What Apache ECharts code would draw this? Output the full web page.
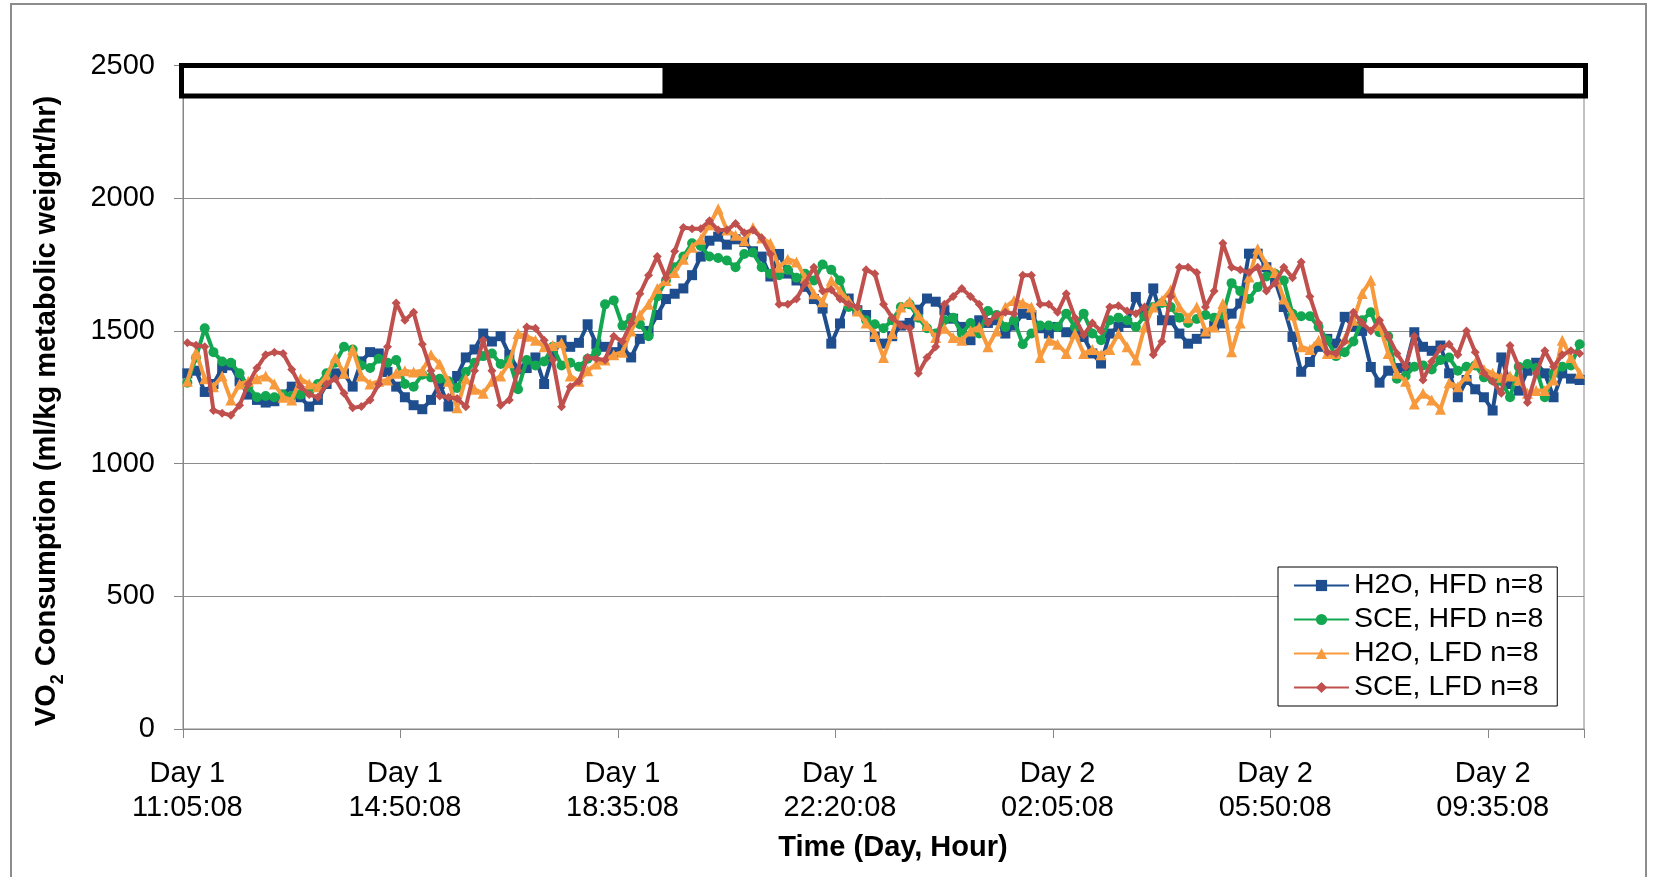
<!DOCTYPE html>
<html>
<head>
<meta charset="utf-8">
<script src="https://cdn.jsdelivr.net/npm/echarts@6/dist/echarts.min.js"></script>
<style>
html,body{margin:0;padding:0;background:#fff;}
#chart{width:1657px;height:877px;}
</style>
</head>
<body>
<div id="chart"></div>
<script>
// ---- data ----
const startMinutes = 11 * 60 + 5;   // Day 1 11:05:08
const stepMinutes = 9;
const nPoints = 161;

const xTickLabels = ['Day 1\n11:05:08','Day 1\n14:50:08','Day 1\n18:35:08','Day 1\n22:20:08','Day 2\n02:05:08','Day 2\n05:50:08','Day 2\n09:35:08'];
const yTicks = [0, 500, 1000, 1500, 2000, 2500];

// light (0) / dark (1) phases, in category positions
const lightPhases = [
  [0, 55.1, 0],
  [55.1, 135.7, 1],
  [135.7, 161, 0]
];
const phaseBar = [2385, 2500];

const h2oHFD = [
1340,1350,1270,1300,1360,1370,1310,1260,1240,1230,1235,1260,1290,1250,1215,1240,1300,1340,1340,1290,1385,1420,1415,
1345,1290,1250,1220,1205,1240,1300,1215,1330,1400,1430,1490,1460,1480,1410,1355,1360,1400,1300,1410,1465,1440,
1455,1525,1450,1440,1420,1440,1400,1470,1500,1560,1620,1640,1660,1710,1780,1840,1855,1825,1845,1835,1800,1780,1705,1790,
1716,1690,1666,1620,1584,1452,1528,1622,1578,1560,1477,1452,1480,1520,1530,1580,1622,1610,1578,1546,1515,1465,1540,
1530,1540,1490,1520,1565,1560,1510,1490,1515,1495,1490,1477,1415,1377,1490,1515,1530,1628,1565,1660,1540,1540,1490,
1452,1470,1490,1520,1528,1565,1603,1791,1791,1740,1690,1590,1477,1346,1383,1440,1470,1452,1553,1515,1500,1364,1305,
1350,1360,1365,1495,1440,1425,1445,1340,1250,1315,1280,1250,1200,1400,1300,1275,1350,1380,1340,1250,1340,1320,1315
];
const sceHFD = [
1305,1400,1510,1420,1385,1380,1340,1290,1250,1255,1250,1260,1255,1260,1270,1300,1340,1380,1440,1430,1370,1360,1395,
1380,1390,1300,1290,1335,1325,1320,1310,1285,1345,1380,1405,1415,1375,1390,1280,1390,1370,1385,1440,1370,1380,
1365,1395,1420,1600,1615,1520,1550,1525,1480,1630,1690,1740,1780,1830,1820,1780,1775,1765,1740,1790,1795,1740,1715,1710,
1730,1700,1715,1690,1750,1730,1690,1590,1575,1540,1525,1510,1540,1590,1600,1550,1510,1490,1540,1550,1490,1530,1490,
1575,1560,1515,1540,1450,1490,1520,1520,1515,1565,1515,1565,1490,1465,1540,1550,1540,1515,1555,1590,1605,1590,1550,
1530,1545,1560,1550,1560,1680,1650,1620,1665,1705,1715,1690,1565,1555,1555,1515,1465,1405,1420,1460,1540,1570,1495,
1480,1320,1330,1365,1370,1355,1390,1400,1350,1365,1370,1325,1315,1310,1250,1365,1375,1360,1250,1340,1365,1370,1450
];
const h2oLFD = [
1310,1420,1320,1290,1330,1240,1300,1310,1320,1330,1300,1250,1240,1320,1300,1290,1330,1400,1340,1430,1330,1300,1310,
1315,1340,1350,1345,1350,1410,1375,1310,1210,1320,1280,1265,1310,1330,1380,1490,1480,1465,1440,1445,1455,1330,
1310,1350,1375,1390,1410,1420,1500,1560,1600,1660,1690,1720,1770,1815,1845,1900,1960,1880,1860,1840,1890,1850,1830,1740,
1770,1760,1700,1640,1610,1690,1650,1615,1575,1530,1490,1400,1490,1590,1610,1560,1520,1475,1510,1475,1465,1500,1515,
1440,1500,1590,1615,1605,1590,1400,1465,1450,1415,1490,1415,1430,1410,1430,1490,1440,1390,1515,1590,1615,1655,1590,
1550,1590,1500,1515,1603,1421,1530,1703,1810,1750,1720,1620,1560,1440,1430,1465,1415,1415,1470,1540,1641,1691,1520,
1415,1340,1310,1225,1265,1240,1205,1305,1290,1330,1380,1355,1340,1325,1330,1315,1265,1275,1275,1315,1465,1400,1340
];
const sceLFD = [
1455,1446,1440,1200,1190,1182,1220,1300,1360,1410,1420,1415,1355,1290,1260,1250,1300,1320,1265,1210,1215,1240,1300,
1440,1605,1540,1570,1450,1350,1255,1250,1245,1214,1350,1465,1350,1220,1240,1350,1515,1510,1465,1390,1214,1290,
1310,1400,1395,1390,1480,1460,1530,1640,1710,1780,1700,1800,1890,1885,1885,1915,1880,1880,1905,1870,1880,1850,1790,1600,
1600,1620,1680,1740,1650,1655,1620,1600,1590,1730,1715,1600,1550,1520,1510,1340,1400,1440,1600,1630,1660,1630,1600,
1530,1560,1570,1565,1710,1710,1600,1600,1570,1640,1550,1485,1530,1500,1590,1595,1575,1565,1590,1410,1460,1630,1740,
1740,1720,1590,1650,1830,1740,1730,1720,1740,1650,1680,1740,1700,1760,1630,1530,1420,1415,1460,1570,1530,1500,1540,
1480,1415,1365,1480,1315,1385,1435,1450,1410,1500,1420,1340,1310,1265,1445,1365,1230,1340,1425,1365,1410,1425,1415
];

const seriesNames = ['H2O, HFD n=8','SCE, HFD n=8','H2O, LFD n=8','SCE, LFD n=8'];
const seriesColors = ['#1F4E8F','#14A751','#F79A3E','#C0504D'];
const seriesSymbols = ['rect','circle','triangle','diamond'];
const seriesData = [h2oHFD, sceHFD, h2oLFD, sceLFD];

// category names (time stamps)
const categories = [];
for (let i = 0; i < nPoints; i++) {
  const m = startMinutes + i * stepMinutes;
  const day = 1 + Math.floor(m / 1440);
  const mm = m % 1440;
  const hh = String(Math.floor(mm / 60)).padStart(2, '0');
  const mi = String(mm % 60).padStart(2, '0');
  categories.push('Day ' + day + ' ' + hh + ':' + mi + ':08');
}

const FONT = "'Liberation Sans', Arial, sans-serif";
const chart = echarts.init(document.getElementById('chart'), null, {renderer: 'canvas'});

const lineSeries = seriesNames.map((name, k) => ({
  name: name,
  type: 'line',
  xAxisIndex: 0,
  yAxisIndex: 0,
  data: seriesData[k],
  symbol: seriesSymbols[k],
  symbolSize: k === 3 ? 9 : (k === 2 ? 11 : 10),
  showSymbol: true,
  showAllSymbol: true,
  lineStyle: {color: seriesColors[k], width: 4},
  itemStyle: {color: seriesColors[k]},
  emphasis: {disabled: true},
  z: 3 + k
}));

const option = {
  animation: false,
  textStyle: {fontFamily: FONT},
  grid: {left: 183, right: 73, top: 65.5, bottom: 148, show: true, borderColor: '#868686', borderWidth: 1},
  xAxis: [{
    type: 'category',
    data: categories,
    boundaryGap: true,
    axisLine: {lineStyle: {color: '#868686', width: 1}},
    axisTick: {show: true, interval: 24, length: 9, lineStyle: {color: '#868686'}},
    axisLabel: {
      interval: 24, margin: 28, color: '#000', fontSize: 29, lineHeight: 34, fontFamily: FONT,
      formatter: (v, idx) => xTickLabels[Math.round(idx / 25)]
    },
    splitLine: {show: false}
  }, {
    type: 'value', min: 0, max: nPoints, show: false
  }],
  yAxis: [{
    type: 'value', min: yTicks[0], max: yTicks[yTicks.length - 1], interval: 500,
    axisLine: {show: true, lineStyle: {color: '#868686'}},
    axisTick: {show: true, length: 9, lineStyle: {color: '#868686'}},
    axisLabel: {margin: 28, color: '#000', fontSize: 29, fontFamily: FONT, formatter: v => String(v)},
    splitLine: {show: true, lineStyle: {color: '#8c8c8c', width: 1}}
  }],
  legend: {
    data: seriesNames,
    orient: 'vertical',
    left: 1278, top: 567,
    padding: [4, 14, 4, 15],
    itemWidth: 55, itemHeight: 14, itemGap: 5,
    borderColor: '#000', borderWidth: 1,
    backgroundColor: '#fff',
    textStyle: {fontSize: 28.5, color: '#000', fontFamily: FONT}
  },
  series: lineSeries.concat([{
    type: 'custom',
    name: 'phases',
    xAxisIndex: 1, yAxisIndex: 0,
    clip: false,
    silent: true,
    z: 10,
    data: lightPhases,
    renderItem: (params, api) => {
      const p0 = api.coord([api.value(0), phaseBar[1]]);
      const p1 = api.coord([api.value(1), phaseBar[0]]);
      return {type: 'rect', shape: {x: p0[0], y: p0[1], width: p1[0] - p0[0], height: p1[1] - p0[1]},
              style: {fill: api.value(2) ? '#000' : '#fff', stroke: null}};
    }
  }, {
    type: 'custom',
    name: 'phaseFrame',
    xAxisIndex: 1, yAxisIndex: 0,
    clip: false, silent: true, z: 11,
    data: [[0, nPoints]],
    renderItem: (params, api) => {
      const p0 = api.coord([api.value(0), phaseBar[1]]);
      const p1 = api.coord([api.value(1), phaseBar[0]]);
      return {type: 'rect', shape: {x: p0[0] - 1.5, y: p0[1], width: p1[0] - p0[0] + 3, height: p1[1] - p0[1]},
              style: {fill: null, stroke: '#000', lineWidth: 5}};
    }
  }]),
  graphic: [
    {type: 'rect', shape: {x: 11, y: 4, width: 1635, height: 900}, style: {fill: null, stroke: '#8c8c8c', lineWidth: 2}, silent: true, z: 0},
    {type: 'text', x: 893, y: 848, style: {text: 'Time (Day, Hour)', fontSize: 29, fontWeight: 'bold', fontFamily: FONT, fill: '#000', align: 'center', verticalAlign: 'middle'}},
    {type: 'text', x: 47, y: 411, rotation: Math.PI / 2,
     style: {text: '{a|VO}{b|2}{a| Consumption (ml/kg metabolic weight/hr)}', align: 'center', verticalAlign: 'middle', fill: '#000',
             rich: {a: {fontSize: 29, fontWeight: 'bold', fontFamily: FONT, lineHeight: 34, verticalAlign: 'middle'},
                    b: {fontSize: 18, fontWeight: 'bold', fontFamily: FONT, lineHeight: 40, verticalAlign: 'bottom'}}}}
  ]
};
chart.setOption(option);
</script>
</body>
</html>
